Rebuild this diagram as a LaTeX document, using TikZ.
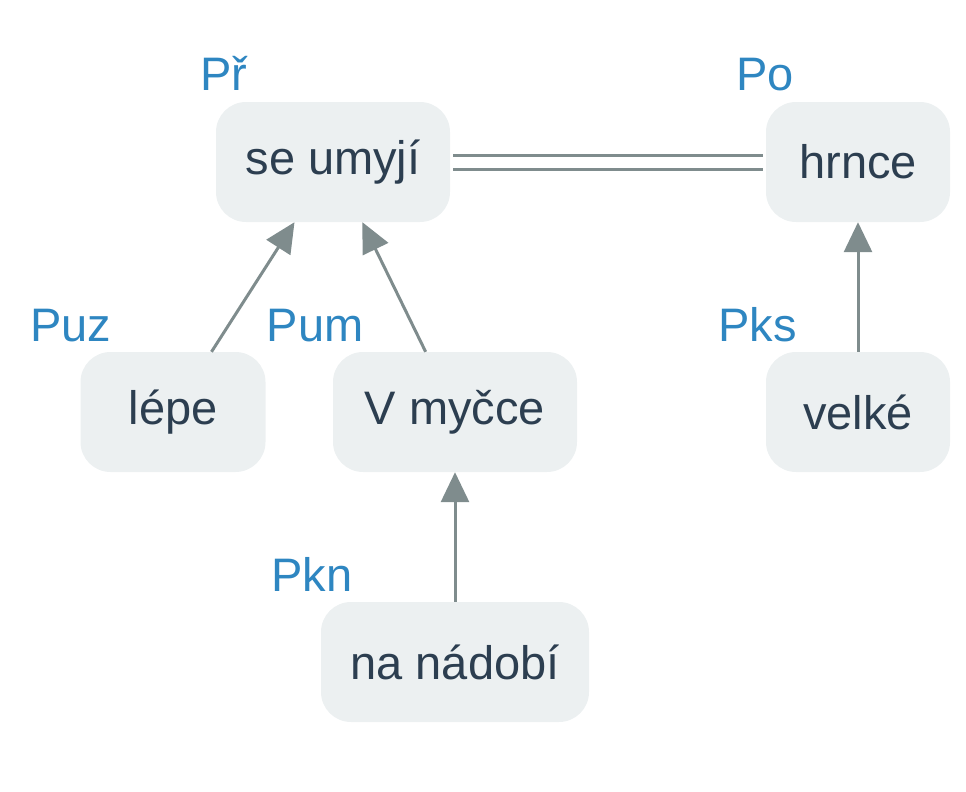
\documentclass[tikz,border=0pt]{standalone}
\usepackage{fontspec}
\setmainfont{Liberation Sans}
\usetikzlibrary{arrows.meta}
\definecolor{boxfill}{HTML}{ECF0F1}
\definecolor{boxtext}{HTML}{2C3E50}
\definecolor{lbl}{HTML}{2E86C1}
\definecolor{edge}{HTML}{7F8C8D}
\tikzset{
  wbox/.style={rectangle, rounded corners=30pt, fill=boxfill, text=boxtext,
    minimum height=120pt, inner xsep=28pt, font=\fontsize{47}{56}\selectfont},
  rel/.style={text=lbl, font=\fontsize{47}{56}\selectfont, anchor=base east, inner sep=0pt},
  arr/.style={draw=edge, line width=3pt, -{Triangle[length=30pt,width=28pt]}},
  dbl/.style={draw=edge, line width=3pt, double=white, double distance=11pt, shorten <=3pt, shorten >=3pt}
}
\begin{document}
\begin{tikzpicture}[x=1pt,y=-1pt]
\useasboundingbox (0,0) rectangle (966,792);
\node[wbox, minimum width=234pt] (su) at (333,162) {se umyjí};
\node[wbox, minimum width=184pt] (hr) at (858,162) {hrnce};
\node[wbox, minimum width=185pt] (le) at (173,412) {lépe};
\node[wbox, minimum width=244pt] (vm) at (455,412) {V myčce};
\node[wbox, minimum width=184pt] (ve) at (858,412) {velké};
\node[wbox, minimum width=268pt] (nn) at (455,662) {na nádobí};
\node[rel] (lsu) at ([shift={(32pt,11pt)}]su.north west) {Př};
\node[rel] (lhr) at ([shift={(28pt,11pt)}]hr.north west) {Po};
\node[rel] (lle) at ([shift={(31pt,10pt)}]le.north west) {Puz};
\node[rel] (lvm) at ([shift={(31pt,10pt)}]vm.north west) {Pum};
\node[rel] (lve) at ([shift={(31pt,10pt)}]ve.north west) {Pks};
\node[rel] (lnn) at ([shift={(32pt,10pt)}]nn.north west) {Pkn};
\draw[dbl] (su) -- (hr);
\draw[arr] (le) -- (su);
\draw[arr] (vm) -- (su);
\draw[arr] (ve) -- (hr);
\draw[arr] (nn) -- (vm);
\end{tikzpicture}
\end{document}
